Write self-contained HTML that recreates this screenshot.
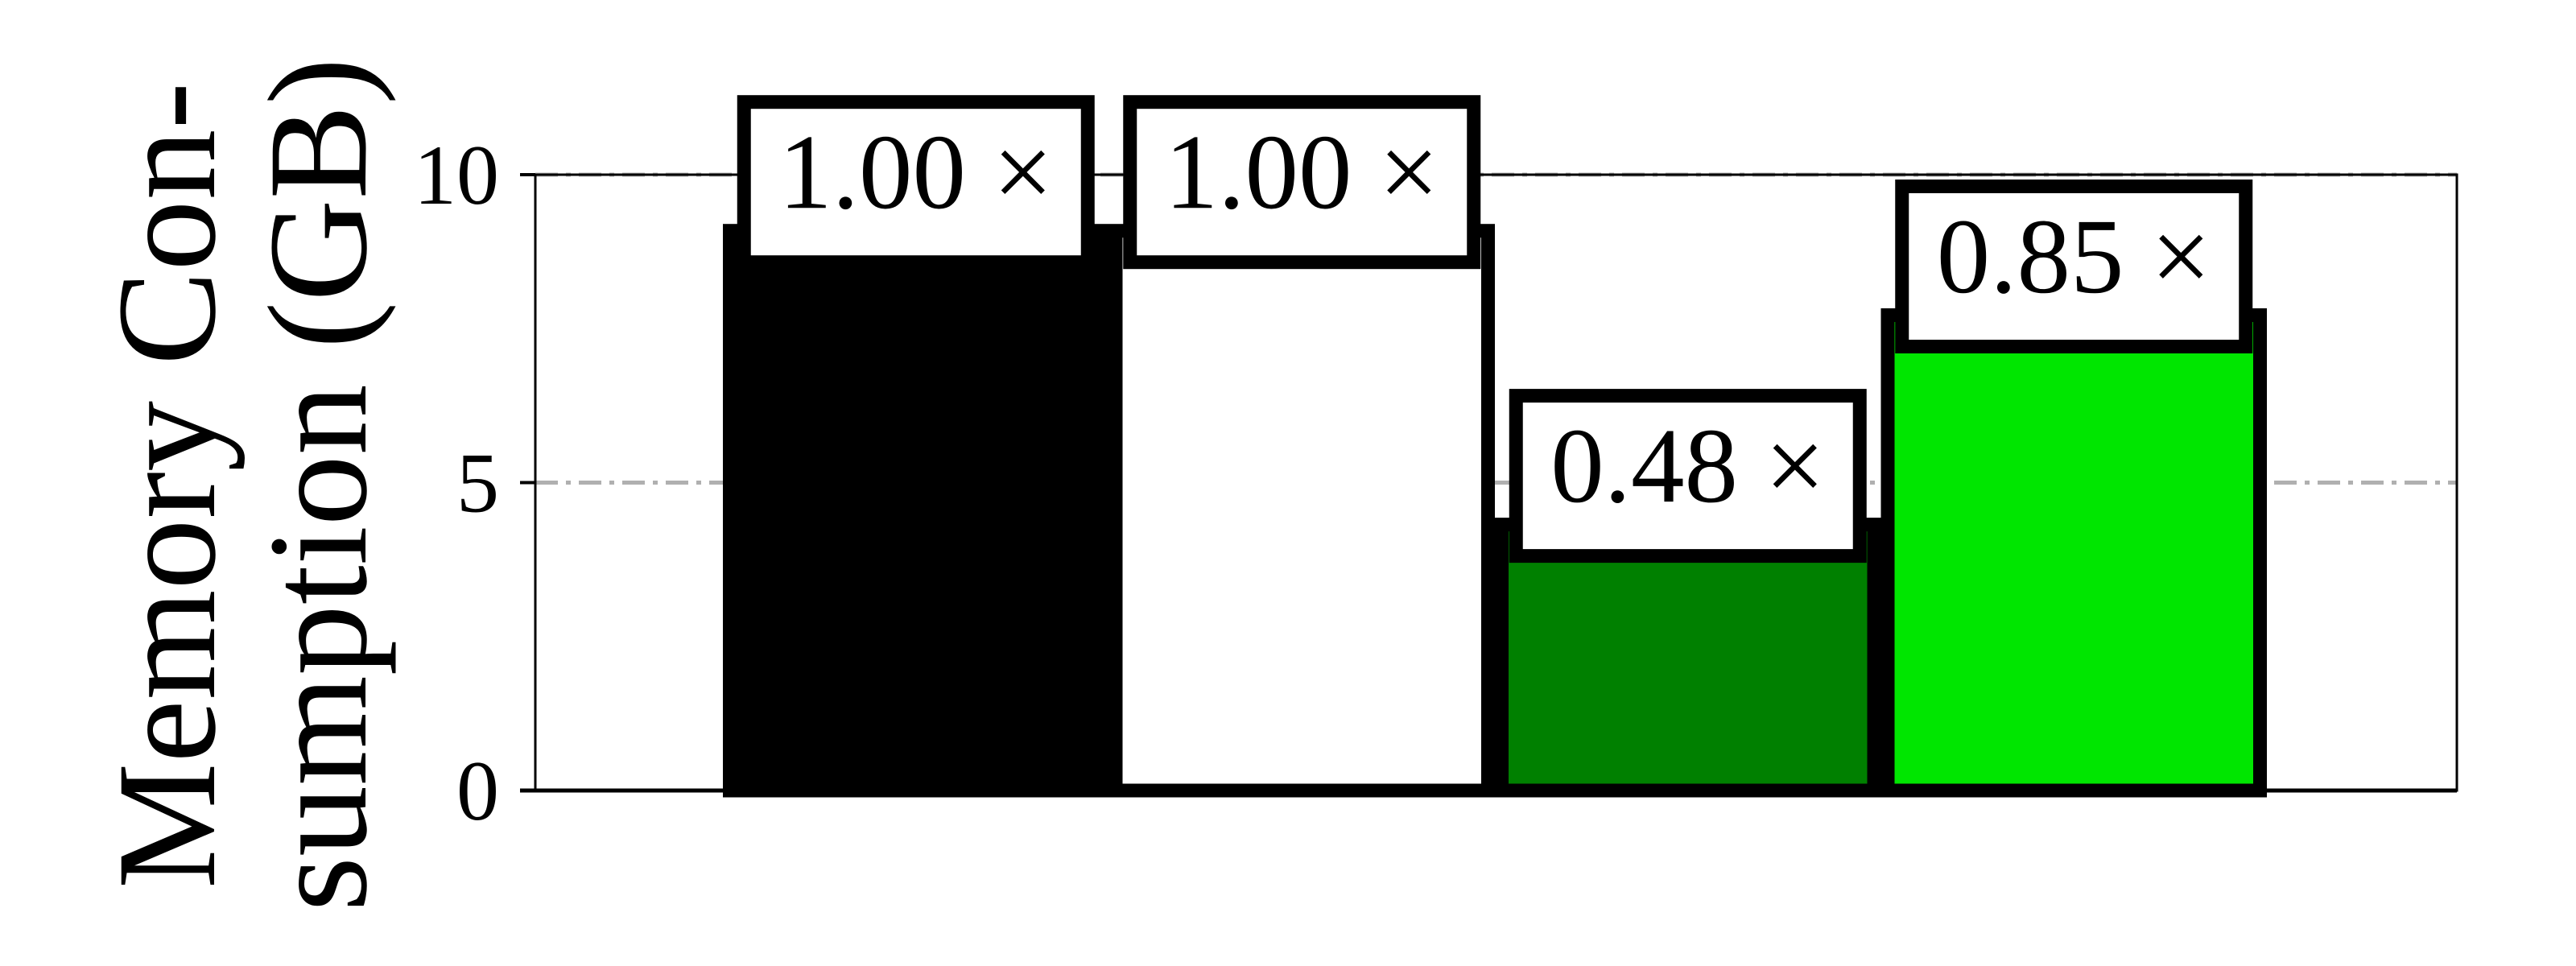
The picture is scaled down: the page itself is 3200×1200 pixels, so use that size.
<!DOCTYPE html>
<html><head><meta charset="utf-8"><style>
html,body{margin:0;padding:0;background:#fff}
svg{display:block}
text{font-family:"Liberation Serif",serif;fill:#000}
</style></head><body>
<svg id="chart" xmlns="http://www.w3.org/2000/svg" width="3200" height="1200" viewBox="0 0 3200 1200">
<g id="grid"></g>
<g id="bars"></g>
<g id="axes"></g>
<g id="labels"></g>
<g>
<text transform="translate(266,603) rotate(-90)" text-anchor="middle" font-size="176">Memory Con-</text>
<text transform="translate(454,602) rotate(-90)" text-anchor="middle" font-size="176">sumption (GB)</text>
</g>
</svg>
<script>
const categories = ["baseline-a", "baseline-b", "method-a", "method-b"];
const values = [9.2, 9.2, 4.43, 7.83];
const ratioLabels = ["1.00 ×", "1.00 ×", "0.48 ×", "0.85 ×"];
const colors = ["#000000", "#ffffff", "#008000", "#00e600"];
const yTicks = [0, 5, 10];

const NS = "http://www.w3.org/2000/svg";
const L = 665, R = 3052, T = 217, B = 982;
const yMax = 10;
const y = v => B - (v / yMax) * (B - T);
const barW = 479.5, barStart = 898;
const xCenter = i => barStart + barW * (i + 0.5);
function mk(tag, attrs, parent) {
  const e = document.createElementNS(NS, tag);
  for (const k in attrs) e.setAttribute(k, attrs[k]);
  parent.appendChild(e);
  return e;
}
const grid = document.getElementById("grid");
const bars = document.getElementById("bars");
const axes = document.getElementById("axes");
const labels = document.getElementById("labels");

yTicks.forEach(t => {
  const g = mk("line", {x1: L, x2: R, y1: y(t), y2: y(t), stroke: "#b0b0b0", "stroke-width": 5, "stroke-dasharray": "28 10 6 10"}, grid);
  
  
});

values.forEach((v, i) => {
  const r = mk("rect", {x: xCenter(i) - barW / 2 + 8.5, y: y(v) + 8.5, width: barW - 17, height: B - y(v) - 8.5, fill: colors[i], stroke: "#000", "stroke-width": 17}, bars);
  
  
});

const frame = mk("rect", {x: L, y: T, width: R - L, height: B - T, fill: "none", stroke: "#000", "stroke-width": 3}, axes);


const base = mk("line", {x1: L - 19, x2: R, y1: B, y2: B, stroke: "#000", "stroke-width": 5}, axes);


yTicks.forEach(t => {
  const tk = mk("line", {x1: L - 19, x2: L, y1: y(t), y2: y(t), stroke: "#000", "stroke-width": 4}, axes);
  
  
  const tl = mk("text", {x: 620, y: y(t) + 36, "text-anchor": "end", "font-size": 106}, axes);
  tl.textContent = String(t);
  
  
});

values.forEach((v, i) => {
  const top = y(v) - 160;
  const bx = mk("rect", {x: xCenter(i) - 213.5, y: top + 8.5, width: 427, height: 199, fill: "#fff", stroke: "#000", "stroke-width": 17}, labels);
  
  
  const tx = mk("text", {x: xCenter(i), y: top + 140, "text-anchor": "middle", "font-size": 133}, labels);
  tx.textContent = ratioLabels[i];
  
  
});
</script>
</body></html>
